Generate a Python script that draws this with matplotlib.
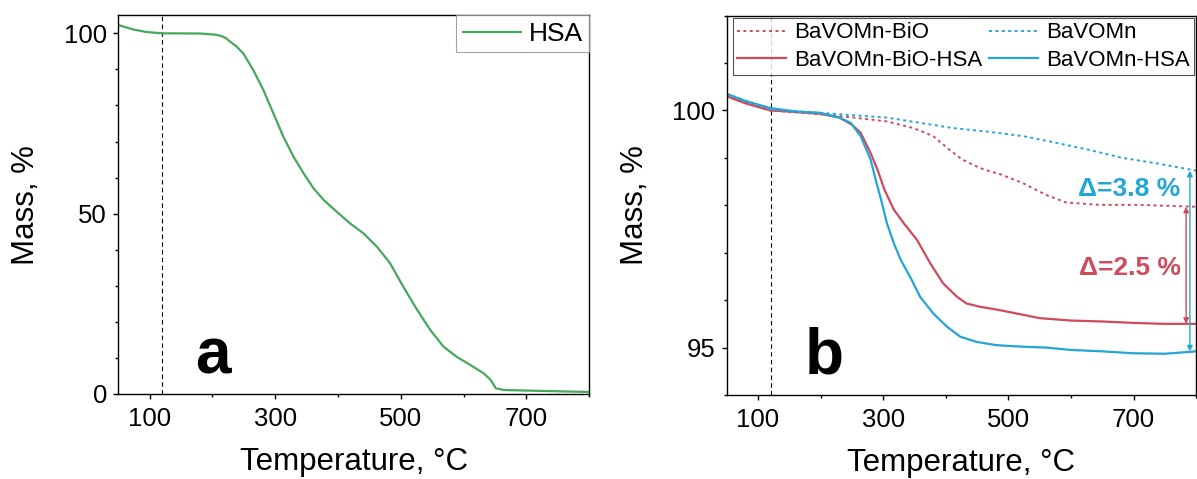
import numpy as np
import matplotlib.pyplot as plt
from matplotlib.ticker import MultipleLocator

plt.rcParams["font.family"] = ["Liberation Sans", "DejaVu Sans"]

# panel a: HSA
hsa_t = [50, 73, 95, 120, 180, 206, 215, 222, 228, 238, 249, 265, 281, 297, 313, 329,
         345, 361, 377, 398, 419, 440, 462, 483, 504, 526, 547, 568, 589, 611, 632,
         643, 651, 664, 712, 800]
hsa_m = [102.3, 101.1, 100.36, 100.0, 99.95, 99.6, 99.2, 98.6, 97.7, 96.4, 94.45, 89.8,
         84.3, 77.8, 71.3, 65.8, 61.2, 57.0, 53.8, 50.5, 47.3, 44.6, 40.8, 36.2, 29.7,
         23.3, 17.7, 13.1, 10.3, 8.0, 5.7, 3.9, 1.6, 1.1, 0.9, 0.55]

# panel b
bio_hsa_t = [50, 80, 120, 160, 200, 230, 250, 264, 280, 291, 302, 317, 333, 354, 375,
             396, 418, 433, 455, 486, 520, 550, 600, 650, 700, 750, 800]
bio_hsa_m = [100.30, 100.15, 100.0, 99.97, 99.93, 99.85, 99.70, 99.53, 99.10, 98.75,
             98.33, 97.91, 97.62, 97.27, 96.78, 96.35, 96.07, 95.93, 95.86, 95.79,
             95.70, 95.62, 95.57, 95.55, 95.52, 95.50, 95.50]

vo_hsa_t = [50, 80, 120, 160, 200, 230, 248, 264, 280, 288, 298, 306, 317, 328, 343,
            359, 380, 402, 423, 449, 481, 520, 560, 600, 650, 700, 750, 800]
vo_hsa_m = [100.35, 100.2, 100.05, 99.98, 99.95, 99.85, 99.74, 99.46, 98.96, 98.54,
            98.05, 97.62, 97.20, 96.85, 96.49, 96.07, 95.72, 95.44, 95.23, 95.12,
            95.05, 95.02, 95.0, 94.95, 94.92, 94.88, 94.87, 94.92]

bio_t = [50, 120, 200, 253, 306, 348, 380, 406, 427, 454, 470, 486, 523, 560, 592,
         645, 708, 800]
bio_m = [100.3, 100.0, 99.92, 99.85, 99.77, 99.63, 99.46, 99.17, 98.96, 98.79, 98.72,
         98.66, 98.47, 98.22, 98.06, 98.01, 98.01, 97.97]

vo_t = [50, 120, 200, 306, 359, 411, 470, 523, 576, 629, 682, 735, 800]
vo_m = [100.35, 100.02, 99.95, 99.85, 99.74, 99.63, 99.55, 99.46, 99.32, 99.17, 99.0,
        98.89, 98.73]

green = "#45a85c"
red = "#cf4a5c"
blue = "#22a6d6"

fig = plt.figure(figsize=(11.97, 4.79), dpi=100)
ax1 = fig.add_axes([0.0988, 0.1775, 0.3935, 0.7906])
ax2 = fig.add_axes([0.6071, 0.1754, 0.3922, 0.7919])


def style_axis(ax):
    ax.set_xlim(50, 800)
    ax.xaxis.set_minor_locator(MultipleLocator(100))
    ax.set_xticks([100, 300, 500, 700])
    ax.tick_params(which="major", direction="out", length=3.6, width=1,
                   labelsize=18.5, pad=4.5)
    ax.tick_params(axis="x", which="major", pad=6)
    ax.tick_params(which="minor", direction="out", length=2.2, width=1)
    ax.tick_params(top=False, right=False)
    for s in ax.spines.values():
        s.set_linewidth(1.0)
    ax.set_xlabel("Temperature, °C", fontsize=22.5)
    ax.set_ylabel("Mass, %", fontsize=22.5)
    ax.xaxis.set_label_coords(0.5, -0.14)
    ax.yaxis.set_label_coords(-0.163, 0.5)
    ax.axvline(120, color="black", linestyle=(0, (4, 3)), linewidth=0.8, zorder=1)


# --- panel a
ax1.plot(hsa_t, hsa_m, color=green, linewidth=1.6, label="HSA")
style_axis(ax1)
ax1.set_ylim(0, 105)
ax1.yaxis.set_major_locator(MultipleLocator(50))
ax1.yaxis.set_minor_locator(MultipleLocator(10))
leg1 = ax1.legend(loc="upper right", fontsize=19, frameon=True, fancybox=False,
                  borderaxespad=0.0, borderpad=0.25, handlelength=2.2,
                  handletextpad=0.3)
leg1.get_frame().set_edgecolor("0.55")
leg1.get_frame().set_linewidth(0.8)
ax1.text(172, 5.7, "a", fontsize=46, fontweight="bold", ha="left", va="baseline")

# --- panel b
dot = (0, (1.5, 1.8))
ax2.plot(bio_t, bio_m, color=red, linestyle=dot, linewidth=1.4, label="BaVOMn-BiO")
ax2.plot(bio_hsa_t, bio_hsa_m, color=red, linewidth=1.6, label="BaVOMn-BiO-HSA")
ax2.plot(vo_t, vo_m, color=blue, linestyle=dot, linewidth=1.4, label="BaVOMn")
ax2.plot(vo_hsa_t, vo_hsa_m, color=blue, linewidth=1.6, label="BaVOMn-HSA")
style_axis(ax2)
ax2.set_ylim(94, 102)
ax2.yaxis.set_major_locator(MultipleLocator(5))
ax2.yaxis.set_minor_locator(MultipleLocator(1))
leg2 = ax2.legend(loc="upper right", ncol=2, fontsize=16, frameon=True,
                  fancybox=False, borderaxespad=0.1, borderpad=0.2,
                  handlelength=2.2, handletextpad=0.35, columnspacing=0.3,
                  labelspacing=0.3)
leg2.get_frame().set_edgecolor("0.15")
leg2.get_frame().set_linewidth(0.8)
ax2.text(174, 94.45, "b", fontsize=46, fontweight="bold", ha="left", va="baseline")

# difference arrows, from the last values of each series
ax2.annotate("", xy=(784, bio_hsa_m[-1]), xytext=(784, bio_m[-1]),
             arrowprops=dict(arrowstyle="<|-|>", color=red, lw=1.0,
                             mutation_scale=8, shrinkA=0, shrinkB=0))
ax2.annotate("", xy=(790, vo_hsa_m[-1]), xytext=(790, vo_m[-1]),
             arrowprops=dict(arrowstyle="<|-|>", color=blue, lw=1.0,
                             mutation_scale=8, shrinkA=0, shrinkB=0))
ax2.text(775, 98.19, "Δ=3.8 %", color=blue, fontsize=19, fontweight="bold",
         ha="right", va="baseline")
ax2.text(775, 96.52, "Δ=2.5 %", color=red, fontsize=19, fontweight="bold",
         ha="right", va="baseline")

fig.savefig("out.png", dpi=100, facecolor="white")
